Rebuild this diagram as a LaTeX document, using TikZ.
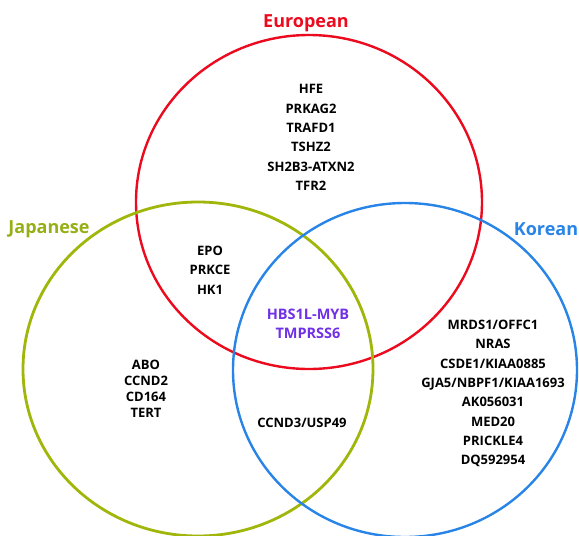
\documentclass[tikz,border=0pt]{standalone}
\usepackage{fontspec}
\setmainfont{Open Sans}
\definecolor{eured}{RGB}{236,10,30}
\definecolor{japol}{RGB}{160,182,10}
\definecolor{japtxt}{RGB}{150,175,20}
\definecolor{korbl}{RGB}{40,132,230}
\definecolor{purp}{RGB}{112,48,232}
\tikzset{
  ring/.style={line width=2.4pt},
  gene/.style={font=\bfseries\fontsize{13}{19.3}\selectfont, align=center, inner sep=0pt, text=black},
  genebig/.style={font=\bfseries\fontsize{14.5}{19.3}\selectfont, align=center, inner sep=0pt},
  genetight/.style={font=\bfseries\fontsize{13}{16}\selectfont, align=center, inner sep=0pt, text=black},
  grp/.style={font=\bfseries\fontsize{18}{20}\selectfont, inner sep=0pt}
}
\begin{document}
\begin{tikzpicture}[x=1pt,y=-1pt]
\useasboundingbox (0,0) rectangle (579,536);
% circles
\draw[ring, eured] (309,202) ellipse [x radius=173, y radius=167];
\draw[ring, japol, line width=2.8pt] (198,369) ellipse [x radius=175, y radius=167];
\draw[ring, korbl] (405,370) ellipse [x radius=172, y radius=167];
% group labels
\node[grp, text=eured] (eu) at (306,23) {European};
\node[grp, text=japtxt] (jp) at (49,229) {Japanese};
\node[grp, text=korbl] (kr) at (546,229) {Korean};
% genes
\node[gene] (euonly) at (311,137.5) {HFE\\PRKAG2\\TRAFD1\\TSHZ2\\SH2B3-ATXN2\\TFR2};
\node[gene] (eujp) at (210,270) {EPO\\PRKCE\\HK1};
\node[genebig, text=purp] (all) at (308,323.5) {HBS1L-MYB\\TMPRSS6};
\node[genetight] (jponly) at (146,389) {ABO\\CCND2\\CD164\\TERT};
\node[gene] (jpkr) at (302,423) {CCND3/USP49};
\node[gene] (kronly) at (493,393.5) {MRDS1/OFFC1\\NRAS\\CSDE1/KIAA0885\\GJA5/NBPF1/KIAA1693\\AK056031\\MED20\\PRICKLE4\\DQ592954};
\end{tikzpicture}
\end{document}
